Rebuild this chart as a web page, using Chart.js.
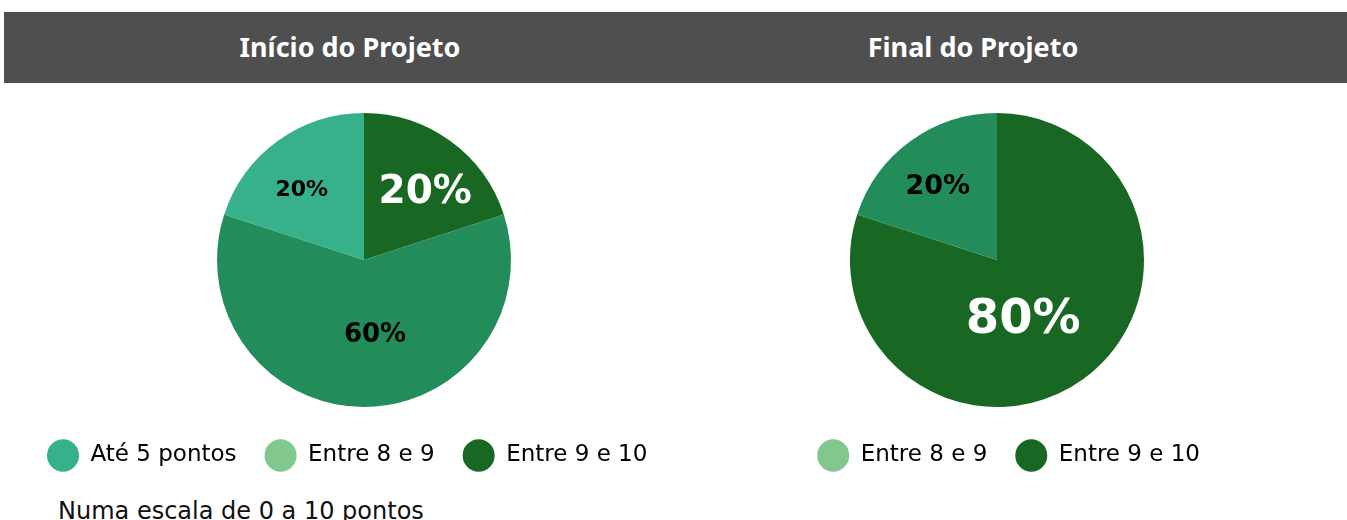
<!DOCTYPE html>
<html>
<head>
<meta charset="utf-8">
<script src="https://cdn.jsdelivr.net/npm/chart.js@4"></script>
<style>
  body { margin: 0; background: #fff; width: 1347px; height: 520px; overflow: hidden; position: relative; }
  .bar { position: absolute; left: 4px; top: 12px; width: 1343px; height: 71px; background: #4f4f4f; }
  .title { position: absolute; top: 29px; width: 400px; text-align: center; color: #fff;
           font-family: "Noto Sans", sans-serif; font-weight: 700; font-size: 27px; line-height: 36px; }
  .box { position: absolute; top: 84px; height: 393px; }
  .note { position: absolute; left: 58px; top: 497px; font-family: "DejaVu Sans", sans-serif;
          font-size: 24px; line-height: 28px; color: #111; white-space: nowrap; }
</style>
</head>
<body>
<div class="bar"></div>
<div class="title" style="left:150px">Início do Projeto</div>
<div class="title" style="left:773px">Final do Projeto</div>
<div class="box" style="left:19px;width:690px"><canvas id="startChart"></canvas></div>
<div class="box" style="left:766px;width:462px"><canvas id="endChart"></canvas></div>
<div class="note">Numa escala de 0 a 10 pontos</div>

<script>
// slices, clockwise from the top
const startLabels = ['Entre 9 e 10', 'Entre 8 e 9', 'Até 5 pontos'];
const startValues = [20, 60, 20];
const endLabels = ['Entre 9 e 10', 'Entre 8 e 9'];
const endValues = [80, 20];

// legend entries as shown under each pie
const startLegend = ['Até 5 pontos', 'Entre 8 e 9', 'Entre 9 e 10'];
const endLegend = ['Entre 8 e 9', 'Entre 9 e 10'];

const sliceColors = {
    'Até 5 pontos': '#37b08c',
    'Entre 8 e 9': '#228c5a',
    'Entre 9 e 10': '#186823'
};
const legendColors = {
    'Até 5 pontos': '#37b08c',
    'Entre 8 e 9': '#82c78e',
    'Entre 9 e 10': '#186823'
};

// draws the percentage inside each slice
const sliceLabels = {
    id: 'sliceLabels',
    afterDatasetsDraw(chart, args, opts) {
        const ctx = chart.ctx;
        const meta = chart.getDatasetMeta(0);
        const values = chart.data.datasets[0].data;
        const total = values.reduce((a, b) => a + b, 0);
        ctx.save();
        ctx.textAlign = 'center';
        ctx.textBaseline = 'middle';
        meta.data.forEach((arc, i) => {
            const pos = arc.tooltipPosition();
            const nudge = opts.offsets[i] || [0, 0];
            ctx.font = 'bold ' + opts.sizes[i] + 'px "DejaVu Sans", sans-serif';
            ctx.fillStyle = opts.colors[i];
            ctx.fillText(Math.round(values[i] / total * 100) + '%', pos.x + nudge[0], pos.y + nudge[1]);
        });
        ctx.restore();
    }
};

function createPie(canvasId, labels, values, legendNames, align, labelOpts) {
    const ctx = document.getElementById(canvasId).getContext('2d');
    return new Chart(ctx, {
        type: 'pie',
        data: {
            labels: labels,
            datasets: [{
                data: values,
                backgroundColor: labels.map(l => sliceColors[l]),
                borderWidth: 0
            }]
        },
        options: {
            responsive: true,
            maintainAspectRatio: false,
            animation: false,
            radius: 147,
            layout: { padding: { top: 20 } },
            plugins: {
                tooltip: { enabled: false },
                legend: {
                    position: 'bottom',
                    align: align,
                    labels: {
                        usePointStyle: true,
                        pointStyle: 'circle',
                        pointStyleWidth: 32,
                        padding: 28,
                        color: '#1a1a1a',
                        font: { family: '"DejaVu Sans", sans-serif', size: 23 },
                        generateLabels: () => legendNames.map(name => ({
                            text: name,
                            fillStyle: legendColors[name],
                            strokeStyle: legendColors[name],
                            lineWidth: 0,
                            pointStyle: 'circle',
                            hidden: false
                        }))
                    }
                },
                sliceLabels: labelOpts
            }
        },
        plugins: [sliceLabels]
    });
}

createPie('startChart', startLabels, startValues, startLegend, 'start', {
    sizes: [39, 26, 22],
    colors: ['#ffffff', '#000000', '#000000'],
    offsets: [[18, -8], [11, 2], [-19, -10]]
});
createPie('endChart', endLabels, endValues, endLegend, 'end', {
    sizes: [48, 27],
    colors: ['#ffffff', '#000000'],
    offsets: [[-17, 1], [-16, -14]]
});
</script>
</body>
</html>
